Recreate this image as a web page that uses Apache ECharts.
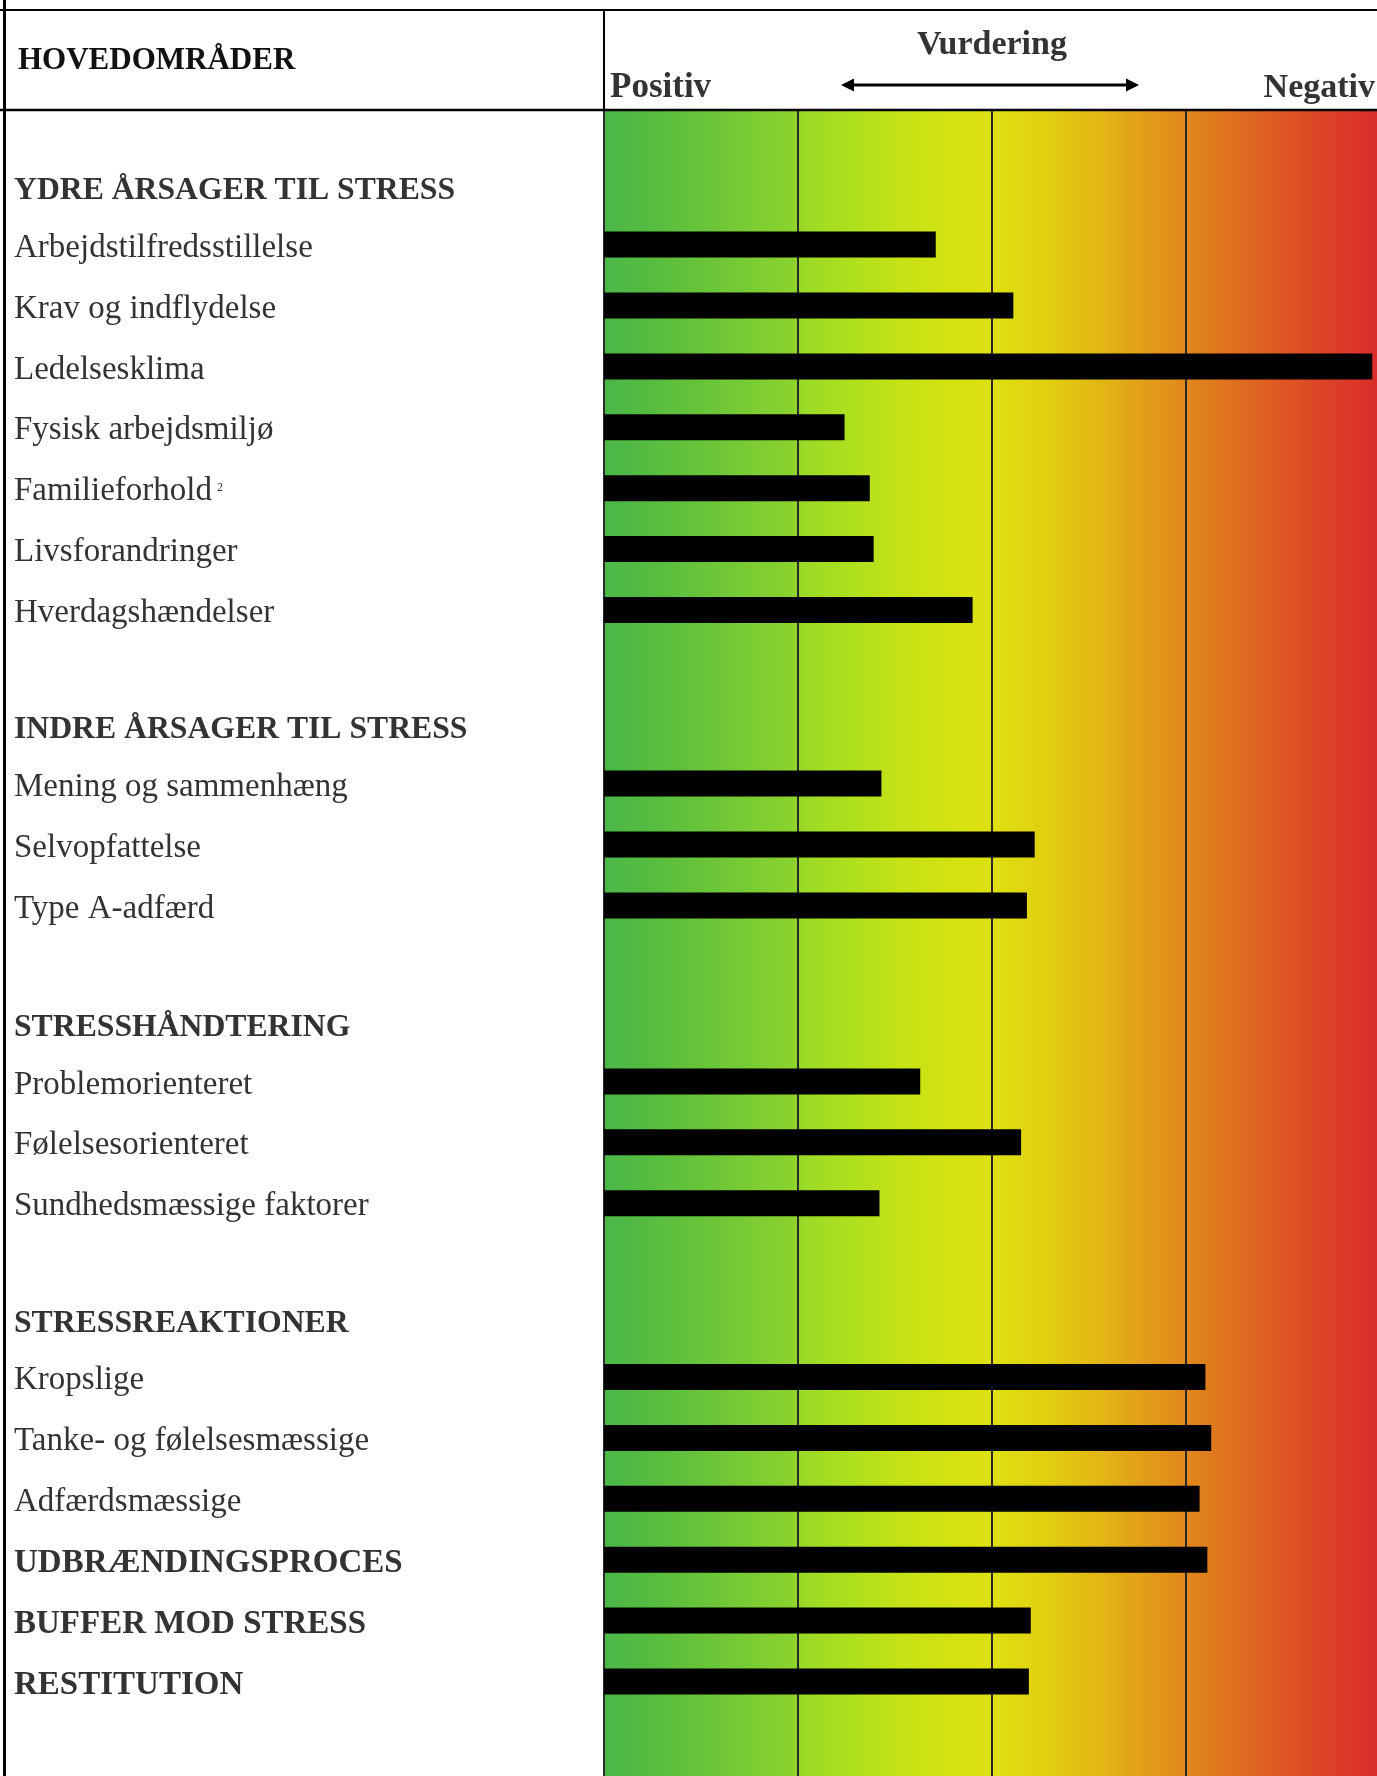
<!DOCTYPE html>
<html><head><meta charset="utf-8">
<script src="https://cdn.jsdelivr.net/npm/echarts@6/dist/echarts.min.js"></script>
<style>html,body{margin:0;padding:0;background:#fff;overflow:hidden}#c{width:1380px;height:1776px}</style>
</head><body><div id="c"></div>
<script>
// ---- data ----
const groupHeaders = ['YDRE ÅRSAGER TIL STRESS', 'INDRE ÅRSAGER TIL STRESS', 'STRESSHÅNDTERING', 'STRESSREAKTIONER'];
const items1 = ['Arbejdstilfredsstillelse', 'Krav og indflydelse', 'Ledelsesklima', 'Fysisk arbejdsmiljø', 'Familieforhold', 'Livsforandringer', 'Hverdagshændelser'];
const values1 = [1.71, 2.11, 3.96, 1.24, 1.37, 1.39, 1.90];
const items2 = ['Mening og sammenhæng', 'Selvopfattelse', 'Type A-adfærd'];
const values2 = [1.43, 2.22, 2.18];
const items3 = ['Problemorienteret', 'Følelsesorienteret', 'Sundhedsmæssige faktorer'];
const values3 = [1.63, 2.15, 1.42];
const items4 = ['Kropslige', 'Tanke- og følelsesmæssige', 'Adfærdsmæssige', 'UDBRÆNDINGSPROCES', 'BUFFER MOD STRESS', 'RESTITUTION'];
const values4 = [3.10, 3.13, 3.07, 3.11, 2.20, 2.19];
const boldItems = ['UDBRÆNDINGSPROCES', 'BUFFER MOD STRESS', 'RESTITUTION'];
const footnotes = { 'Familieforhold': '2' };
const scaleMin = 0, scaleMax = 4, scaleStep = 1;
const titleMain = 'HOVEDOMRÅDER', titleScale = 'Vurdering', leftEnd = 'Positiv', rightEnd = 'Negativ';

// ---- layout ----
const FONT = '"Liberation Serif", "Times New Roman", serif';
const plotLeft = 604, plotRight = 0, rowH = 60.9;
const firstCenters = [244.6, 783.6, 1081.4, 1377];
const groups = [[items1, values1], [items2, values2], [items3, values3], [items4, values4]];

const chart = echarts.init(document.getElementById('c'), null, { renderer: 'canvas' });

const grids = [{ left: plotLeft, right: plotRight, top: 110, bottom: 0, show: true, borderWidth: 0,
  backgroundColor: new echarts.graphic.LinearGradient(0, 0, 1, 0, [
    { offset: 0, color: '#4AB748' }, { offset: 0.06, color: '#56BC40' }, { offset: 0.12, color: '#66C33A' },
    { offset: 0.24, color: '#8AD22E' }, { offset: 0.26, color: '#9CDA26' }, { offset: 0.32, color: '#AEE01E' },
    { offset: 0.38, color: '#C4E216' }, { offset: 0.46, color: '#D6E210' }, { offset: 0.5, color: '#DFE010' },
    { offset: 0.57, color: '#E1CF10' }, { offset: 0.64, color: '#E2B614' }, { offset: 0.70, color: '#E29C1A' },
    { offset: 0.75, color: '#E0881C' }, { offset: 0.82, color: '#DF6C20' }, { offset: 0.88, color: '#DE5524' },
    { offset: 0.94, color: '#DC3F28' }, { offset: 1, color: '#DB2C2C' }]) }];
const xAxes = [{ type: 'value', gridIndex: 0, min: scaleMin, max: scaleMax, interval: scaleStep,
  axisLine: { show: false }, axisTick: { show: false }, axisLabel: { show: false },
  splitLine: { show: true, showMinLine: true, showMaxLine: false, lineStyle: { color: '#2b2b2b', width: 2 } } }];
const yAxes = [{ type: 'value', gridIndex: 0, show: false, min: 0, max: 1 }];
const series = [];

const rich = {
  reg: { fontFamily: FONT, fontSize: 33, color: '#333', padding: [7, 0, 0, 0] },
  bold: { fontFamily: FONT, fontSize: 33, fontWeight: 'bold', color: '#333', padding: [7, 0, 0, 0] },
  head: { fontFamily: FONT, fontSize: 31.7, fontWeight: 'bold', color: '#333', padding: [15, 0, 0, 0] },
  sup: { fontFamily: FONT, fontSize: 12, color: '#333', padding: [0, 0, 0, 5] }
};

groups.forEach(([items, vals], g) => {
  const cats = [groupHeaders[g]].concat(items);
  const data = [null].concat(vals);
  const n = cats.length;
  const top = firstCenters[g] - rowH * 1.5;
  grids.push({ left: plotLeft, right: plotRight, top: top, height: n * rowH, show: false });
  xAxes.push({ type: 'value', gridIndex: g + 1, min: scaleMin, max: scaleMax, show: false });
  yAxes.push({ type: 'category', gridIndex: g + 1, data: cats, inverse: true,
    axisLine: { show: false }, axisTick: { show: false }, splitLine: { show: false },
    axisLabel: { show: true, align: 'left', margin: plotLeft - 14, interval: 0,
      formatter: function (v, i) {
        if (i === 0) return '{head|' + v + '}';
        if (boldItems.indexOf(v) >= 0) return '{bold|' + v + '}';
        if (footnotes[v]) return '{reg|' + v + '}{sup|' + footnotes[v] + '}';
        return '{reg|' + v + '}';
      }, rich: rich } });
  series.push({ type: 'bar', xAxisIndex: g + 1, yAxisIndex: g + 1, data: data, barWidth: 26,
    itemStyle: { color: '#000' }, silent: true, animation: false });
});

const graphic = [
  { type: 'line', shape: { x1: 0, y1: 10, x2: 1380, y2: 10 }, style: { stroke: '#000', lineWidth: 2 }, z: 100 },
  { type: 'line', shape: { x1: 0, y1: 110, x2: 1380, y2: 110 }, style: { stroke: '#000', lineWidth: 2.5 }, z: 100 },
  { type: 'line', shape: { x1: 4.5, y1: 0, x2: 4.5, y2: 1776 }, style: { stroke: '#000', lineWidth: 3 }, z: 100 },
  { type: 'line', shape: { x1: 604, y1: 10, x2: 604, y2: 110 }, style: { stroke: '#000', lineWidth: 2 }, z: 100 },
  { type: 'text', x: 18, y: 61, style: { text: titleMain, font: 'bold 31px ' + FONT, fill: '#111', textVerticalAlign: 'middle' }, z: 100 },
  { type: 'text', x: 992, y: 45, style: { text: titleScale, font: 'bold 34px ' + FONT, fill: '#333', textAlign: 'center', textVerticalAlign: 'middle' }, z: 100 },
  { type: 'text', x: 610, y: 88, style: { text: leftEnd, font: 'bold 35px ' + FONT, fill: '#333', textVerticalAlign: 'middle' }, z: 100 },
  { type: 'text', x: 1375, y: 88, style: { text: rightEnd, font: 'bold 34px ' + FONT, fill: '#333', textAlign: 'right', textVerticalAlign: 'middle' }, z: 100 },
  { type: 'line', shape: { x1: 850, y1: 85, x2: 1130, y2: 85 }, style: { stroke: '#000', lineWidth: 3 }, z: 100 },
  { type: 'polygon', shape: { points: [[841, 85], [854, 78.5], [854, 91.5]] }, style: { fill: '#000' }, z: 100 },
  { type: 'polygon', shape: { points: [[1139, 85], [1126, 78.5], [1126, 91.5]] }, style: { fill: '#000' }, z: 100 }
];

chart.setOption({ animation: false, backgroundColor: '#fff', grid: grids, xAxis: xAxes, yAxis: yAxes, series: series, graphic: graphic });
</script></body></html>
